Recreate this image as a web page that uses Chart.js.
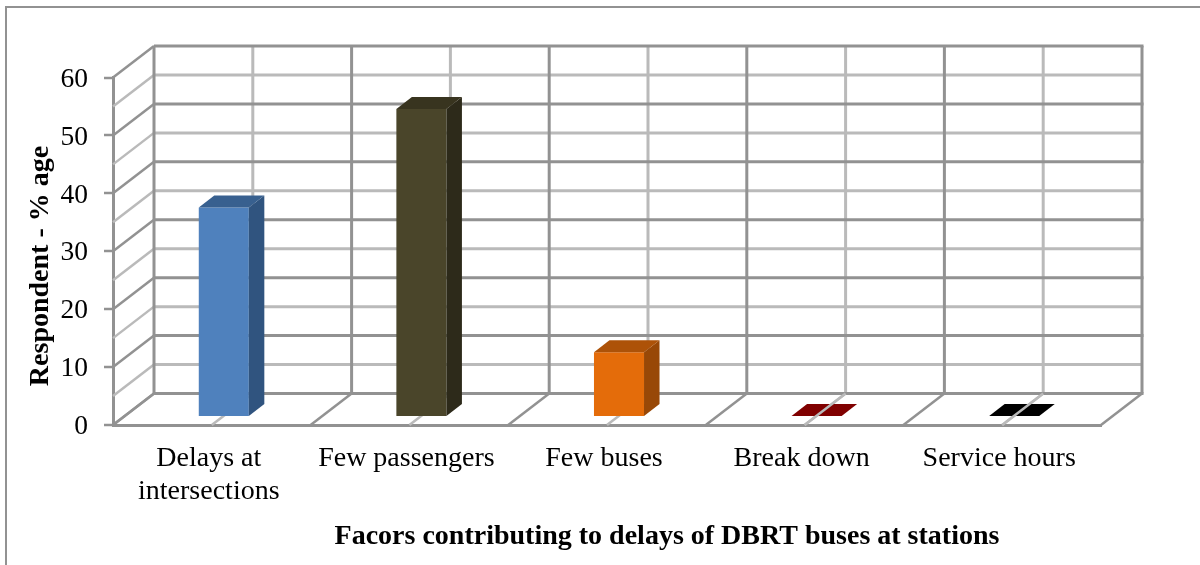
<!DOCTYPE html>
<html>
<head>
<meta charset="utf-8">
<title>Delays of DBRT buses</title>
<script src="https://cdn.jsdelivr.net/npm/chart.js@4"></script>
<style>
  html, body { margin: 0; background: #fff; }
  canvas { display: block; }
</style>
</head>
<body>
<canvas id="delayChart" width="1200" height="565"></canvas>
<script>
const categories = [["Delays at", "intersections"], "Few passengers", "Few buses", "Break down", "Service hours"];
const respondents = [36, 53, 11, 0, 0];
const majorLevels = [0, 10, 20, 30, 40, 50, 60];
const minorLevels = [5, 15, 25, 35, 45, 55];
const xTitle = "Facors contributing to delays of DBRT buses at stations";
const yTitle = "Respondent - % age";

const frontColors = ["#4f81bd", "#4a452a", "#e46c0a", "#990000", "#000000"];
const sideColors = ["#30547f", "#2d2a1a", "#984807", "#660000", "#000000"];
const topColors = ["#38608f", "#38341f", "#ad5208", "#800000", "#000000"];

const MAJOR = "#929292";
const MINOR = "#bababa";
const SERIF = "'Liberation Serif', 'Times New Roman', serif";
// wall depth and how far the bars sit in from the front edge
const depth = { x: 41, y: -31.5 };
const barShift = { x: 12, y: -9 };
const barSide = { x: 15.5, y: -12 };

function line(ctx, x1, y1, x2, y2, color, width) {
  ctx.strokeStyle = color;
  ctx.lineWidth = width;
  ctx.beginPath();
  ctx.moveTo(x1, y1);
  ctx.lineTo(x2, y2);
  ctx.stroke();
}

function poly(ctx, pts, color) {
  ctx.fillStyle = color;
  ctx.beginPath();
  pts.forEach((p, i) => (i ? ctx.lineTo(p[0], p[1]) : ctx.moveTo(p[0], p[1])));
  ctx.closePath();
  ctx.fill();
}

const walls = {
  id: "walls",
  beforeDraw(chart) {
    const ctx = chart.ctx;
    ctx.save();
    ctx.fillStyle = "#fff";
    ctx.fillRect(0, 0, chart.width, chart.height);
    // page frame, open on the right and bottom
    line(ctx, 6, 565, 6, 7, MAJOR, 2);
    line(ctx, 5, 7, 1200, 7, MAJOR, 2);
    ctx.restore();
  },
  beforeDatasetsDraw(chart) {
    const ctx = chart.ctx;
    const { x, y } = chart.scales;
    const area = chart.chartArea;
    const step = x.getPixelForValue(1) - x.getPixelForValue(0);
    ctx.save();
    ctx.lineCap = "butt";
    minorLevels.forEach((v) => {
      const py = y.getPixelForValue(v);
      line(ctx, area.left, py, area.left + depth.x, py + depth.y, MINOR, 2.5);
      line(ctx, area.left + depth.x, py + depth.y, area.right + depth.x, py + depth.y, MINOR, 3);
    });
    categories.forEach((c, i) => {
      const px = x.getPixelForValue(i);
      line(ctx, px, area.bottom, px + depth.x, area.bottom + depth.y, MINOR, 2.5);
      line(ctx, px + depth.x, area.bottom + depth.y, px + depth.x, area.top + depth.y, MINOR, 3);
    });
    majorLevels.forEach((v) => {
      const py = y.getPixelForValue(v);
      line(ctx, area.left, py, area.left + depth.x, py + depth.y, MAJOR, 2.5);
      line(ctx, area.left + depth.x, py + depth.y, area.right + depth.x + 1.5, py + depth.y, MAJOR, 3);
    });
    categories.concat([""]).forEach((c, i) => {
      const px = x.getPixelForValue(0) - step / 2 + i * step;
      line(ctx, px, area.bottom, px + depth.x, area.bottom + depth.y, MAJOR, 2.5);
      line(ctx, px + depth.x, area.bottom + depth.y, px + depth.x, area.top + depth.y, MAJOR, 3);
    });
    ctx.restore();
  },
  beforeDatasetDraw(chart) {
    chart.ctx.save();
    chart.ctx.translate(barShift.x, barShift.y);
  },
  afterDatasetDraw(chart, args) {
    const ctx = chart.ctx;
    args.meta.data.forEach((bar, i) => {
      const l = bar.x - bar.width / 2;
      const r = bar.x + bar.width / 2;
      poly(ctx, [[r, bar.y], [r + barSide.x, bar.y + barSide.y], [r + barSide.x, bar.base + barSide.y], [r, bar.base]], sideColors[i]);
      poly(ctx, [[l, bar.y], [l + barSide.x, bar.y + barSide.y], [r + barSide.x, bar.y + barSide.y], [r, bar.y]], topColors[i]);
    });
    ctx.restore();
    // flat bars lie on the floor, its centre line still shows through them
    const { x } = chart.scales;
    const area = chart.chartArea;
    respondents.forEach((v, i) => {
      if (v === 0) {
        const px = x.getPixelForValue(i);
        line(ctx, px, area.bottom, px + depth.x, area.bottom + depth.y, MINOR, 2.5);
      }
    });
  },
  afterDraw(chart) {
    const ctx = chart.ctx;
    ctx.save();
    ctx.fillStyle = "#000";
    ctx.font = "bold 28px " + SERIF;
    ctx.textAlign = "center";
    ctx.textBaseline = "middle";
    ctx.fillText(xTitle, 667, 537);
    ctx.translate(41, 266);
    ctx.rotate(-Math.PI / 2);
    ctx.fillText(yTitle, 0, 0);
    ctx.restore();
  },
};

new Chart(document.getElementById("delayChart").getContext("2d"), {
  type: "bar",
  data: {
    labels: categories,
    datasets: [
      {
        data: respondents,
        backgroundColor: frontColors,
        categoryPercentage: 1,
        barPercentage: 0.2533,
        clip: false,
      },
    ],
  },
  options: {
    responsive: false,
    animation: false,
    events: [],
    layout: { padding: { left: 10, right: 99, top: 77.5, bottom: 0 } },
    plugins: { legend: { display: false }, tooltip: { enabled: false } },
    scales: {
      x: {
        afterFit: (s) => { s.height = 140; },
        grid: { display: false, drawTicks: false },
        border: { color: MAJOR, width: 3 },
        ticks: {
          color: "#000",
          font: { family: SERIF, size: 28, lineHeight: 1.18 },
          padding: 17,
          labelOffset: -3,
          autoSkip: false,
          maxRotation: 0,
        },
      },
      y: {
        min: 0,
        max: 60,
        afterFit: (s) => { s.width = 103; },
        // lineWidth 0 keeps the zero bar base from being nudged by half a grid line
        grid: { drawOnChartArea: false, tickLength: 9, tickColor: MAJOR, tickWidth: 2.5, lineWidth: 0 },
        border: { color: MAJOR, width: 3 },
        ticks: {
          stepSize: 10,
          color: "#000",
          font: { family: SERIF, size: 27.5 },
          padding: 16,
          labelOffset: 2,
        },
      },
    },
  },
  plugins: [walls],
});
</script>
</body>
</html>
